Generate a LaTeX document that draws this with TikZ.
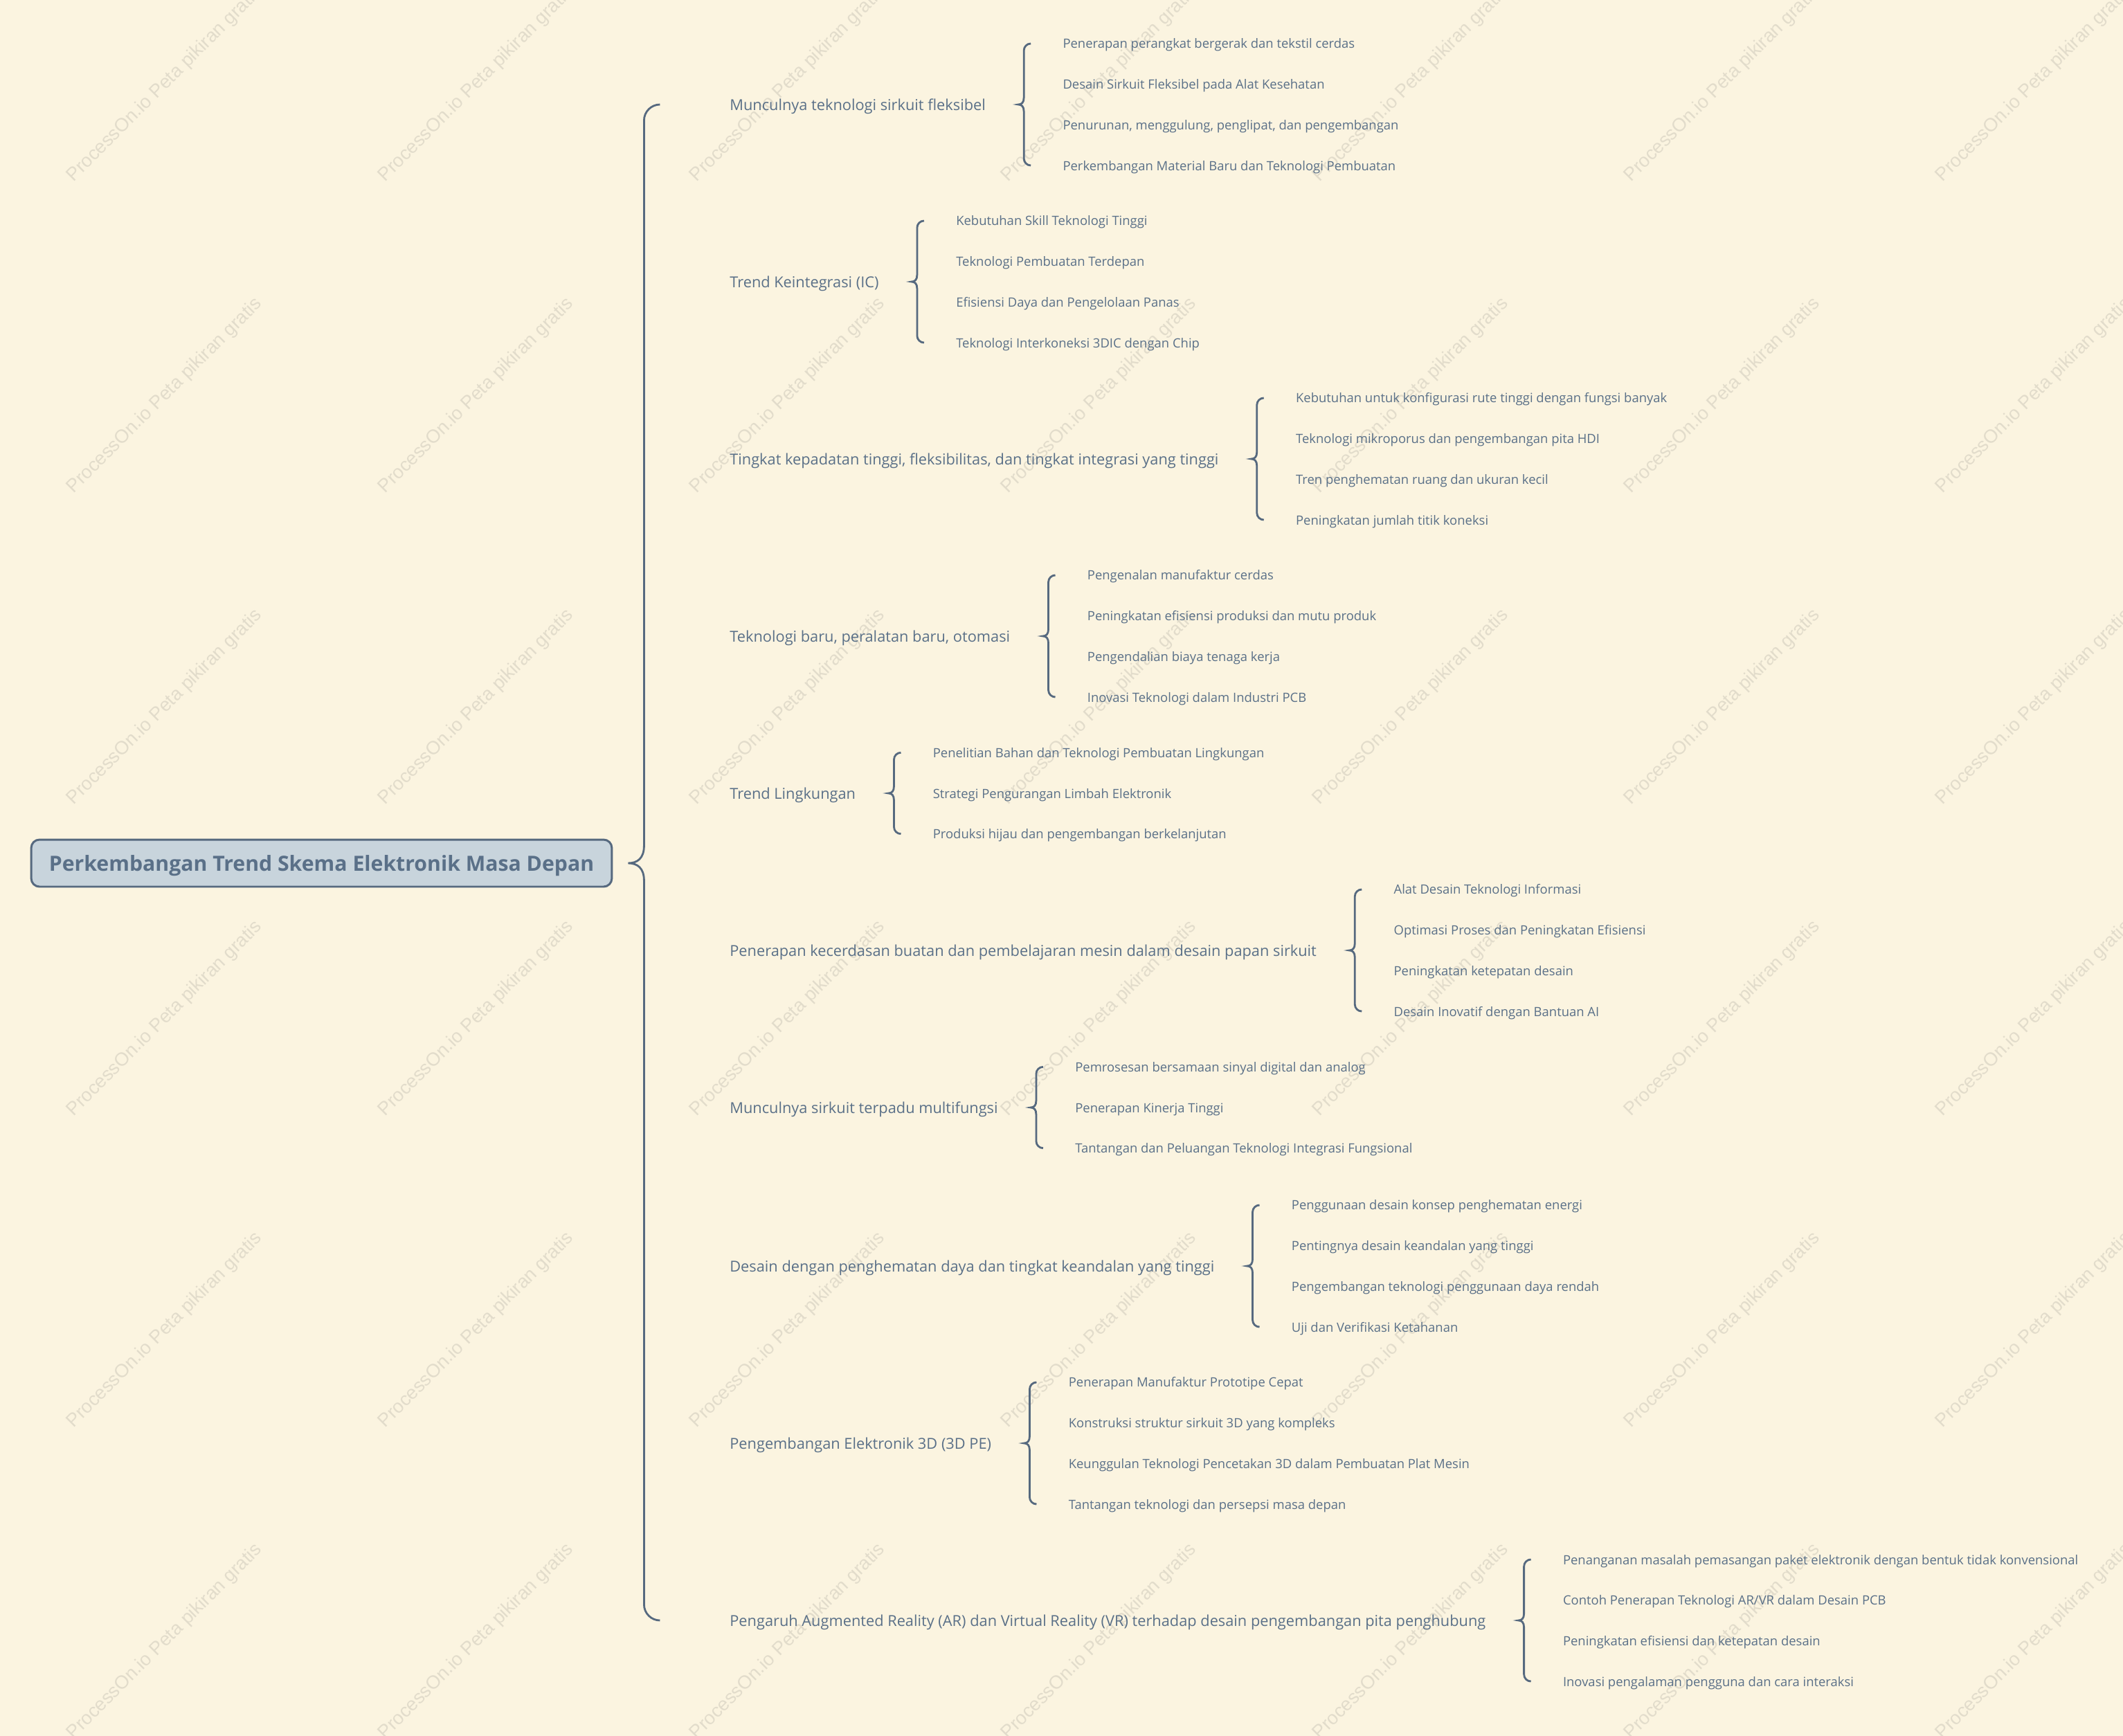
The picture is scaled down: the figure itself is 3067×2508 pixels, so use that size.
\documentclass[tikz,border=0pt]{standalone}
\usepackage{fontspec}
\setmainfont{Open Sans}
\newfontfamily\wmfont{Liberation Sans}
\usetikzlibrary{calc, positioning}

\definecolor{paper}{HTML}{FBF4E0}
\definecolor{ink}{HTML}{5A7088}
\definecolor{edge}{HTML}{56697F}
\definecolor{rootfill}{HTML}{C8D4DC}
\definecolor{wmgray}{HTML}{E2DCCB}

% curly bracket from a parent node to its first and last child
% #1 parent, #2 first, #3 last, #4 x offset, #5 corner, #6 tip depth, #7 tip height
\newcommand{\mmbrace}[7]{%
  \draw[brace]
    ($(#1.east |- #2.west)+(#4+#5,0)$)
      .. controls ($(#1.east |- #2.west)+(#4+0.45*#5,0)$) and ($(#1.east |- #2.west)+(#4,0.45*#5)$) ..
    ($(#1.east |- #2.west)+(#4,#5)$) -- ($(#1.east)+(#4,-#7)$)
      .. controls ($(#1.east)+(#4,-0.3*#7)$) and ($(#1.east)+(#4-0.4*#6,0)$) ..
    ($(#1.east)+(#4-#6,0)$)
      .. controls ($(#1.east)+(#4-0.4*#6,0)$) and ($(#1.east)+(#4,0.3*#7)$) ..
    ($(#1.east)+(#4,#7)$) -- ($(#1.east |- #3.west)+(#4,-#5)$)
      .. controls ($(#1.east |- #3.west)+(#4,-0.45*#5)$) and ($(#1.east |- #3.west)+(#4+0.45*#5,0)$) ..
    ($(#1.east |- #3.west)+(#4+#5,0)$);}

% leaves of one branch, stacked round the branch, plus their bracket
\newcommand{\twig}[3]{%
  \foreach \leaftext [count=\idx] in {#3}
    \node[leaf] (#1-\idx) at ($(#1.east)+(111,{(\idx-(#2+1)/2)*58.7})$) {\leaftext};
  \mmbrace{#1}{#1-1}{#1-#2}{55}{10}{8}{10}}

\begin{document}
\begin{tikzpicture}[
  x=0.02cm, y=-0.02cm,
  rootbox/.style={rectangle, draw=edge, line width=1.7pt, rounded corners=0.24cm, fill=rootfill,
    minimum width=16.78cm, minimum height=1.36cm, text height=16pt, text depth=2.9pt,
    text=ink, font=\fontsize{17.2}{20}\selectfont\bfseries},
  branch/.style={anchor=west, inner sep=0pt, text height=11.5pt, text depth=2.1pt,
    text=ink, font=\fontsize{12.4}{15}\selectfont},
  leaf/.style={anchor=west, inner sep=0pt, text height=9.8pt, text depth=1.8pt,
    text=ink, font=\fontsize{10.5}{13}\selectfont},
  brace/.style={draw=edge, line width=1.6pt},
  watermark/.style={rotate=45, inner sep=0pt, text=wmgray, font=\wmfont\fontsize{15.4}{18}\selectfont}
  ]
  \useasboundingbox (0,0) rectangle (3067,2508);
  \fill[paper] (0,0) rectangle (3067,2508);

  % background stamp
  \foreach \wx in {238,688,...,2938}
    \foreach \wy in {122,572,...,2372}
      \node[watermark] (wm-\wx-\wy) at (\wx,\wy) {ProcessOn.io Peta pikiran gratis};

  % ========== root ==========
  \node[rootbox] (root) at (464.5,1247) {Perkembangan Trend Skema Elektronik Masa Depan};

  % ========== branches ==========
  \node[branch] (b1) at (1054,151) {Munculnya teknologi sirkuit fleksibel};
  \node[branch] (b2) at (1054,407) {Trend Keintegrasi (IC)};
  \node[branch] (b3) at (1054,663) {Tingkat kepadatan tinggi, fleksibilitas, dan tingkat integrasi yang tinggi};
  \node[branch] (b4) at (1054,919) {Teknologi baru, peralatan baru, otomasi};
  \node[branch] (b5) at (1054,1146) {Trend Lingkungan};
  \node[branch] (b6) at (1054,1373) {Penerapan kecerdasan buatan dan pembelajaran mesin dalam desain papan sirkuit};
  \node[branch] (b7) at (1054,1600) {Munculnya sirkuit terpadu multifungsi};
  \node[branch] (b8) at (1054,1829) {Desain dengan penghematan daya dan tingkat keandalan yang tinggi};
  \node[branch] (b9) at (1054,2085) {Pengembangan Elektronik 3D (3D PE)};
  \node[branch] (b10) at (1054,2341) {Pengaruh Augmented Reality (AR) dan Virtual Reality (VR) terhadap desain pengembangan pita penghubung};
  \mmbrace{root}{b1}{b10}{45}{23}{23}{25}

  % ========== leaves ==========
  \twig{b1}{4}{Penerapan perangkat bergerak dan tekstil cerdas, Desain Sirkuit Fleksibel pada Alat Kesehatan,
    {Penurunan, menggulung, penglipat, dan pengembangan}, Perkembangan Material Baru dan Teknologi Pembuatan}
  \twig{b2}{4}{Kebutuhan Skill Teknologi Tinggi, Teknologi Pembuatan Terdepan,
    Efisiensi Daya dan Pengelolaan Panas, Teknologi Interkoneksi 3DIC dengan Chip}
  \twig{b3}{4}{Kebutuhan untuk konfigurasi rute tinggi dengan fungsi banyak, Teknologi mikroporus dan pengembangan pita HDI,
    Tren penghematan ruang dan ukuran kecil, Peningkatan jumlah titik koneksi}
  \twig{b4}{4}{Pengenalan manufaktur cerdas, Peningkatan efisiensi produksi dan mutu produk,
    Pengendalian biaya tenaga kerja, Inovasi Teknologi dalam Industri PCB}
  \twig{b5}{3}{Penelitian Bahan dan Teknologi Pembuatan Lingkungan, Strategi Pengurangan Limbah Elektronik,
    Produksi hijau dan pengembangan berkelanjutan}
  \twig{b6}{4}{Alat Desain Teknologi Informasi, Optimasi Proses dan Peningkatan Efisiensi,
    Peningkatan ketepatan desain, Desain Inovatif dengan Bantuan AI}
  \twig{b7}{3}{Pemrosesan bersamaan sinyal digital dan analog, Penerapan Kinerja Tinggi,
    Tantangan dan Peluangan Teknologi Integrasi Fungsional}
  \twig{b8}{4}{Penggunaan desain konsep penghematan energi, Pentingnya desain keandalan yang tinggi,
    Pengembangan teknologi penggunaan daya rendah, Uji dan Verifikasi Ketahanan}
  \twig{b9}{4}{Penerapan Manufaktur Prototipe Cepat, Konstruksi struktur sirkuit 3D yang kompleks,
    Keunggulan Teknologi Pencetakan 3D dalam Pembuatan Plat Mesin, Tantangan teknologi dan persepsi masa depan}
  \twig{b10}{4}{Penanganan masalah pemasangan paket elektronik dengan bentuk tidak konvensional,
    Contoh Penerapan Teknologi AR/VR dalam Desain PCB, Peningkatan efisiensi dan ketepatan desain,
    Inovasi pengalaman pengguna dan cara interaksi}
\end{tikzpicture}
\end{document}
